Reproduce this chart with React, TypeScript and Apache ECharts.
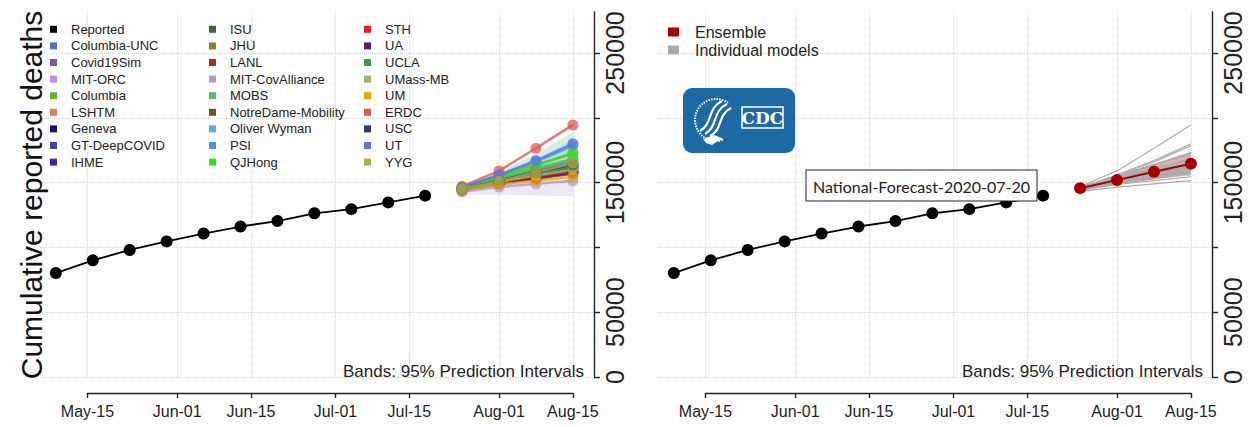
import React, { useEffect, useRef } from 'react';
import * as echarts from 'echarts';

// ---------------- data ----------------
const REPORTED_DATES = ['2020-05-09', '2020-05-16', '2020-05-23', '2020-05-30', '2020-06-06', '2020-06-13', '2020-06-20', '2020-06-27', '2020-07-04', '2020-07-11', '2020-07-18'];
const REPORTED_DEATHS = [80200, 90000, 98000, 104600, 110700, 116100, 120300, 126300, 129500, 134700, 139900];

const FORECAST_DATES = ['2020-07-25', '2020-08-01', '2020-08-08', '2020-08-15'];

const MODEL_NAMES = [
  'Columbia-UNC', 'Covid19Sim', 'MIT-ORC', 'Columbia', 'LSHTM', 'Geneva', 'GT-DeepCOVID', 'IHME',
  'ISU', 'JHU', 'LANL', 'MIT-CovAlliance', 'MOBS', 'NotreDame-Mobility', 'Oliver Wyman', 'PSI', 'QJHong',
  'STH', 'UA', 'UCLA', 'UMass-MB', 'UM', 'ERDC', 'USC', 'UT', 'YYG',
];
const MODEL_COLORS = [
  '#5570b8', '#8055a0', '#c38be3', '#6ab03a', '#e0805f', '#22136a', '#3d43a0', '#4b22a2',
  '#2e6b3c', '#7d8b2c', '#8e3a22', '#a89cd8', '#50c070', '#6e5822', '#4fb3db', '#4f90e4', '#1ee81e',
  '#ee1c1c', '#4b2075', '#3c9a52', '#9db276', '#f5a300', '#e05656', '#2c3b72', '#6272e3', '#b2b232',
];
const MODEL_FORECASTS = [
  [145500, 152500, 159500, 166500],
  [145000, 151000, 156500, 162000],
  [144000, 149500, 154500, 159000],
  [146000, 153000, 160500, 168500],
  [146500, 155000, 164000, 172000],
  [145000, 151000, 157000, 162500],
  [145000, 150500, 156000, 161000],
  [145000, 151500, 158000, 164500],
  [145000, 151000, 157000, 163000],
  [145000, 150500, 155500, 160500],
  [144500, 149500, 154000, 158500],
  [143000, 146500, 149000, 151500],
  [146000, 153500, 161000, 168000],
  [144500, 149500, 154000, 158000],
  [145500, 151500, 157500, 163500],
  [146000, 155500, 166000, 178500],
  [146000, 154000, 163000, 173000],
  [144500, 149500, 154000, 158000],
  [144000, 149000, 153000, 157000],
  [145500, 151500, 157000, 162500],
  [145000, 150500, 155500, 160000],
  [144000, 148500, 151500, 154500],
  [147000, 159000, 176500, 194500],
  [145000, 151500, 158000, 164000],
  [146000, 156000, 167000, 180000],
  [145000, 151000, 158000, 165000],
];

// prediction-interval bands drawn in the left panel
const BAND_MODELS = ['MOBS', 'Oliver Wyman', 'MIT-CovAlliance', 'UM'];
const BAND_LOWER = [
  [144500, 149000, 153500, 157000],
  [144500, 150000, 155000, 160000],
  [141000, 140500, 140000, 139500],
  [143500, 146500, 148500, 150000],
];
const BAND_UPPER = [
  [147500, 158000, 172000, 189000],
  [147000, 155500, 168000, 183000],
  [145000, 148500, 150500, 152000],
  [145500, 150500, 154500, 159000],
];

const ENSEMBLE = [145700, 151900, 158400, 164600];
const ENSEMBLE_LOWER = [144200, 148600, 152500, 155500];
const ENSEMBLE_UPPER = [147300, 155300, 164500, 174000];

const X_TICK_DATES = ['2020-05-15', '2020-06-01', '2020-06-15', '2020-07-01', '2020-07-15', '2020-08-01', '2020-08-15'];
const X_TICK_LABELS = ['May-15', 'Jun-01', 'Jun-15', 'Jul-01', 'Jul-15', 'Aug-01', 'Aug-15'];
const Y_TICKS = [0, 50000, 100000, 150000, 200000, 250000];
const Y_LABELS = [0, 50000, 150000, 250000];

const X_MIN = '2020-05-06';
const X_MAX = '2020-08-19';
const Y_MAX = 281600;

// ---------------- helpers ----------------
const ts = (s: string) => {
  const [y, m, d] = s.split('-').map(Number);
  return Date.UTC(y, m - 1, d);
};
const FONT = '"Liberation Sans", Arial, Helvetica, sans-serif';
const INK = '#222';

function bandSeries(name: string, color: string, lo: number[], hi: number[], axis: number, opacity: number) {
  const rows = FORECAST_DATES.map((d, i) => [ts(d), lo[i], hi[i]]);
  return {
    type: 'custom',
    name,
    xAxisIndex: axis,
    yAxisIndex: axis,
    silent: true,
    z: 1,
    data: rows,
    renderItem: (params: any, api: any) => {
      if (params.dataIndex !== 0) return null;
      const top = rows.map((r) => api.coord([r[0], r[2]]));
      const bottom = rows.map((r) => api.coord([r[0], r[1]])).reverse();
      return {
        type: 'polygon',
        shape: { points: top.concat(bottom) },
        style: { fill: color, opacity },
      };
    },
  };
}

export default function App() {
  const ref = useRef<HTMLDivElement>(null);

  useEffect(() => {
    if (!ref.current) return;
    const chart = echarts.init(ref.current, undefined, { renderer: 'svg' });

    // layout
    const W = 554;
    const TOP = 12;
    const H = 365;
    const LEFTS = [40, 658];
    const days = (a: string, b: string) => (ts(b) - ts(a)) / 864e5;
    const dayPx = W / days(X_MIN, X_MAX);
    const axisOffset = days(X_MIN, X_TICK_DATES[0]) * dayPx;
    const axisWidth = days(X_TICK_DATES[0], X_TICK_DATES[X_TICK_DATES.length - 1]) * dayPx;
    const tickTs = X_TICK_DATES.map(ts);

    const grids = [
      { left: LEFTS[0], top: TOP, width: W, height: H },
      { left: LEFTS[1], top: TOP, width: W, height: H },
      { left: LEFTS[0] + axisOffset, top: 385, width: axisWidth, height: 8 },
      { left: LEFTS[1] + axisOffset, top: 385, width: axisWidth, height: 8 },
    ];

    const gridLine = { show: true, lineStyle: { type: 'dotted', color: '#d9d9d9', width: 1 } };

    const mainX = (g: number) => ({
      type: 'value', gridIndex: g, min: ts(X_MIN), max: ts(X_MAX),
      axisLine: { show: false }, axisLabel: { show: false },
      axisTick: { show: false, customValues: tickTs },
      splitLine: gridLine,
    });
    const tickX = (g: number) => ({
      type: 'value', gridIndex: g, position: 'bottom',
      min: tickTs[0], max: tickTs[tickTs.length - 1],
      axisLine: { show: true, lineStyle: { color: INK, width: 1.4 } },
      axisTick: { show: true, length: 5, customValues: tickTs, lineStyle: { color: INK, width: 1.4 } },
      axisLabel: {
        customValues: tickTs, fontSize: 16, color: INK, fontFamily: FONT, margin: 10,
        hideOverlap: false,
        formatter: (v: number) => {
          const i = tickTs.indexOf(v);
          return i >= 0 ? X_TICK_LABELS[i] : '';
        },
      },
      splitLine: { show: false },
    });
    const mainY = (g: number) => ({
      type: 'value', gridIndex: g, position: 'right', min: 0, max: Y_MAX, interval: 50000,
      axisLine: { show: true, lineStyle: { color: INK, width: 1.4 } },
      axisTick: { show: true, length: 6, customValues: Y_TICKS, lineStyle: { color: INK, width: 1.4 } },
      axisLabel: {
        customValues: Y_LABELS, rotate: 90, fontSize: 25, color: INK, fontFamily: FONT, margin: 8,
        formatter: (v: number) => String(v),
      },
      splitLine: gridLine,
    });

    const reported = (axis: number) => ({
      type: 'line', name: 'Reported', xAxisIndex: axis, yAxisIndex: axis, z: 6,
      data: REPORTED_DATES.map((d, i) => [ts(d), REPORTED_DEATHS[i]]),
      color: '#000',
      lineStyle: { color: '#000', width: 1.8 },
      symbol: 'circle', symbolSize: 12, itemStyle: { color: '#000' },
    });

    const series: any[] = [];
    // left panel
    BAND_MODELS.forEach((m, k) => {
      const c = MODEL_COLORS[MODEL_NAMES.indexOf(m)];
      series.push(bandSeries(m + ' band', c, BAND_LOWER[k], BAND_UPPER[k], 0, 0.24));
    });
    MODEL_NAMES.forEach((m, k) => {
      series.push({
        type: 'line', name: m, xAxisIndex: 0, yAxisIndex: 0, z: 3,
        data: FORECAST_DATES.map((d, i) => [ts(d), MODEL_FORECASTS[k][i]]),
        color: MODEL_COLORS[k],
        lineStyle: { width: 2.5, opacity: 0.8 },
        symbol: 'circle', symbolSize: 11, itemStyle: { opacity: 0.75 },
      });
    });
    series.push(reported(0));
    // right panel
    MODEL_NAMES.forEach((m, k) => {
      series.push({
        type: 'line', name: 'Individual models', xAxisIndex: 1, yAxisIndex: 1, z: 3,
        data: FORECAST_DATES.map((d, i) => [ts(d), MODEL_FORECASTS[k][i]]),
        color: '#aaaaaa',
        lineStyle: { width: 1.2, color: '#acacac' },
        showSymbol: false, symbol: 'none',
      });
    });
    series.push(bandSeries('Ensemble band', '#a00000', ENSEMBLE_LOWER, ENSEMBLE_UPPER, 1, 0.3));
    series.push({
      type: 'line', name: 'Ensemble', xAxisIndex: 1, yAxisIndex: 1, z: 5,
      data: FORECAST_DATES.map((d, i) => [ts(d), ENSEMBLE[i]]),
      color: '#a00000',
      lineStyle: { width: 2, color: '#a00000' },
      symbol: 'circle', symbolSize: 12, itemStyle: { color: '#a80000' },
    });
    series.push(reported(1));

    const legendBase = {
      orient: 'vertical', padding: 0, icon: 'rect', itemWidth: 7, itemHeight: 7, itemGap: 2.6,
      selectedMode: false,
      itemStyle: { opacity: 1 },
      textStyle: { fontSize: 13, color: INK, fontFamily: FONT, lineHeight: 14, padding: [0, 0, 0, 9] },
    };
    const legendNames = ['Reported', ...MODEL_NAMES];

    const textEl = (text: string, x: number, y: number, size: number, align: string) => ({
      type: 'text', z: 100,
      style: {
        text, x, y, fill: INK, font: `${size}px ${FONT}`,
        align, textAlign: align, verticalAlign: 'middle', textVerticalAlign: 'middle',
      },
    });

    const option: any = {
      animation: false,
      backgroundColor: '#fff',
      textStyle: { fontFamily: FONT },
      grid: grids,
      xAxis: [mainX(0), mainX(1), tickX(2), tickX(3)],
      yAxis: [mainY(0), mainY(1), { type: 'value', gridIndex: 2, show: false }, { type: 'value', gridIndex: 3, show: false }],
      legend: [
        { ...legendBase, left: 50, top: 22.3, data: legendNames.slice(0, 9) },
        { ...legendBase, left: 209, top: 22.3, data: legendNames.slice(9, 18) },
        { ...legendBase, left: 364, top: 22.3, data: legendNames.slice(18, 27) },
        {
          ...legendBase, left: 668, top: 24, itemWidth: 11, itemHeight: 9, itemGap: 2,
          textStyle: { fontSize: 16, color: INK, fontFamily: FONT, lineHeight: 16, padding: [0, 0, 0, 11] },
          data: ['Ensemble', 'Individual models'],
        },
      ],
      series,
      graphic: [
        {
          type: 'text', z: 100, x: 31, y: 195, rotation: Math.PI / 2,
          style: {
            text: 'Cumulative reported deaths', x: 0, y: 0, fill: '#111', font: `30px ${FONT}`,
            align: 'center', textAlign: 'center', verticalAlign: 'middle', textVerticalAlign: 'middle',
          },
        },
        textEl('Bands: 95% Prediction Intervals', 584, 371, 17, 'right'),
        textEl('Bands: 95% Prediction Intervals', 1203, 371, 17, 'right'),
        // label box
        { type: 'rect', z: 100, shape: { x: 806, y: 170, width: 231, height: 31 }, style: { fill: '#fff', stroke: INK, lineWidth: 1 } },
        {
          type: 'text', z: 101,
          style: {
            text: 'National-Forecast-2020-07-20', x: 921.5, y: 186, fill: INK, font: '16px Lato, "Liberation Sans", sans-serif',
            align: 'center', textAlign: 'center', verticalAlign: 'middle', textVerticalAlign: 'middle',
          },
        },
        // CDC logo
        { type: 'rect', z: 100, shape: { x: 683, y: 88, width: 112, height: 65, r: 9 }, style: { fill: '#1d69a4' } },
        { type: 'rect', z: 101, shape: { x: 742, y: 107, width: 41, height: 21 }, style: { fill: 'none', stroke: '#fff', lineWidth: 1.5 } },
        {
          type: 'text', z: 102,
          style: {
            text: 'CDC', x: 762.5, y: 118, fill: '#fff', font: 'bold 17px "DejaVu Serif", serif',
            align: 'center', textAlign: 'center', verticalAlign: 'middle', textVerticalAlign: 'middle',
          },
        },
        { type: 'arc', z: 101, shape: { cx: 716, cy: 120, r: 21, startAngle: 1.25, endAngle: 5.35, clockwise: true }, style: { stroke: '#fff', lineWidth: 2, lineDash: [1.5, 1.2], fill: 'none' } },
        { type: 'bezierCurve', z: 101, shape: { x1: 700, y1: 131, x2: 722, y2: 101, cpx1: 713, cpy1: 124, cpx2: 707, cpy2: 108 }, style: { stroke: '#fff', lineWidth: 2.2, fill: 'none' } },
        { type: 'bezierCurve', z: 101, shape: { x1: 705, y1: 134, x2: 727, y2: 104, cpx1: 718, cpy1: 127, cpx2: 712, cpy2: 111 }, style: { stroke: '#fff', lineWidth: 2.2, fill: 'none' } },
        { type: 'bezierCurve', z: 101, shape: { x1: 710, y1: 136, x2: 731, y2: 108, cpx1: 723, cpy1: 130, cpx2: 717, cpy2: 115 }, style: { stroke: '#fff', lineWidth: 2.2, fill: 'none' } },
        { type: 'polygon', z: 101, shape: { points: [[703, 139], [714, 135], [724, 139], [718, 141], [712, 145], [706, 143]] }, style: { fill: '#fff' } },
      ],
    };

    chart.setOption(option);
    return () => chart.dispose();
  }, []);

  return (
    <div
      ref={ref}
      style={{ position: 'fixed', left: 0, top: 0, width: 1250, height: 427, background: '#fff' }}
    />
  );
}
